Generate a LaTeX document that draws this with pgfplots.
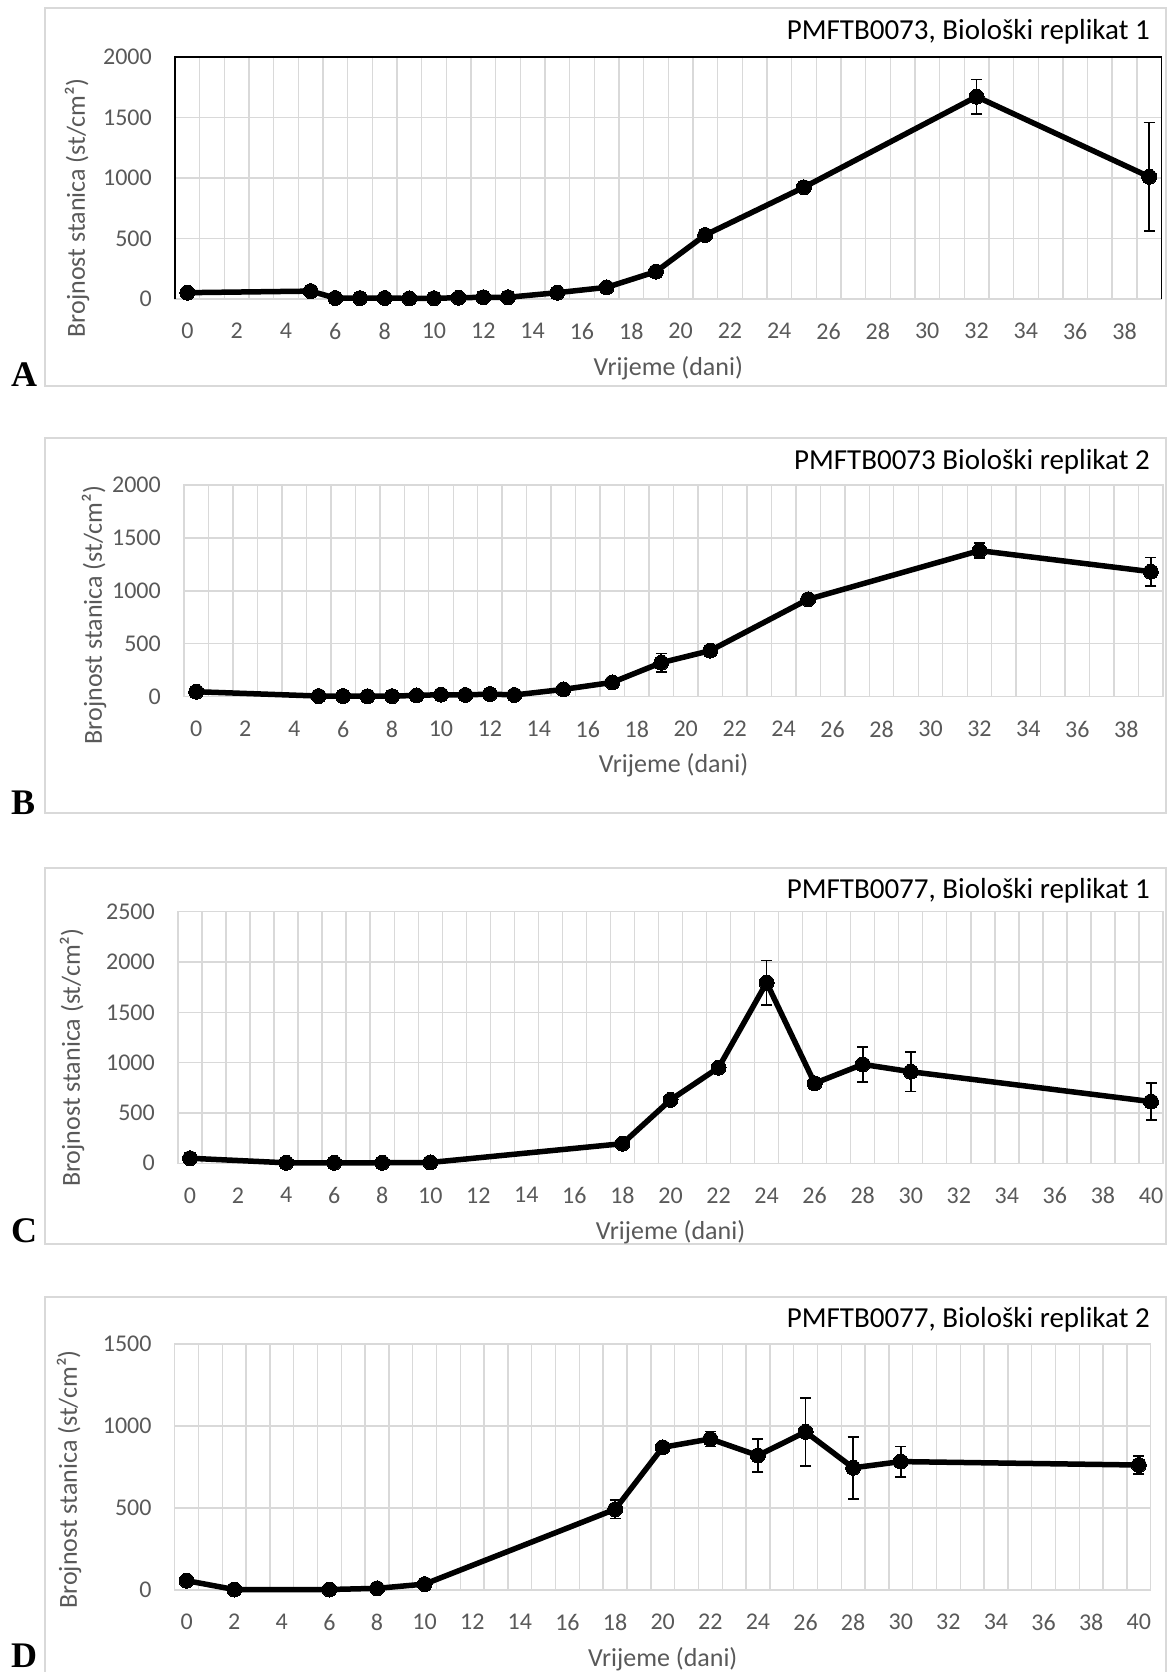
\documentclass[border=0pt]{standalone}
\usepackage{fontspec}
\setmainfont{Carlito}
\newfontfamily\letterfont{Liberation Serif}
\usepackage{pgfplots}
\pgfplotsset{compat=1.18}

\definecolor{gridc}{HTML}{D9D9D9}
\definecolor{tickc}{HTML}{595959}
\newcommand\ticksize{\fontsize{24}{28}\selectfont}
\newcommand\labsize{\fontsize{26}{31}\selectfont}
\newcommand\titsize{\fontsize{29}{34}\selectfont}

\pgfplotsset{
  panel/.style={
    scale only axis, clip=false,
    xmin=-0.5, ymin=0,
    axis line style={draw=gridc, line width=1.4pt},
    major tick length=0pt, minor tick length=0pt,
    ymajorgrids=true, xminorgrids=true,
    grid style={gridc, line width=1.4pt},
    minor grid style={gridc, line width=1.4pt},
    ytick distance=500,
    tick label style={font=\ticksize, text=tickc},
    /pgf/number format/assume math mode=true,
    /pgf/number format/1000 sep={},
    yticklabel style={anchor=east, inner sep=0pt, xshift=-23pt},
    xticklabel style={anchor=north, inner sep=0pt, yshift=-24pt},
    xlabel={Vrijeme (dani)},
    ylabel={Brojnost stanica (st/cm²)},
    label style={font=\labsize, text=tickc},
    xlabel style={at={(axis description cs:0.5,0)}, anchor=north, inner sep=0pt, yshift=-57pt},
  },
  series/.style={black, line width=5.5pt, line join=round, mark=*, mark size=7.5pt,
    mark options={solid, fill=black, line width=0pt},
    error bars/.cd, y dir=both, y explicit,
    error bar style={line width=1.6pt, black},
    error mark options={rotate=90, mark size=5.5pt, line width=1.6pt, black}},
}

\begin{document}
\begin{tikzpicture}
\path[use as bounding box] (0pt,0pt) rectangle (1168pt,1672pt);

% outer chart boxes
\draw[gridc, line width=1.5pt] (45pt,1286pt) rectangle (1166pt,1664pt);
\draw[gridc, line width=1.5pt] (45pt,859pt) rectangle (1166pt,1234pt);
\draw[gridc, line width=1.5pt] (45pt,428pt) rectangle (1166pt,804pt);
\draw[gridc, line width=1.5pt] (45pt,-2pt) rectangle (1166pt,375pt);

% panel letters
\node[anchor=base west, inner sep=0pt, font=\letterfont\bfseries\fontsize{36}{40}\selectfont] at (11pt,1285pt) {A};
\node[anchor=base west, inner sep=0pt, font=\letterfont\bfseries\fontsize{36}{40}\selectfont] at (11pt,857pt) {B};
\node[anchor=base west, inner sep=0pt, font=\letterfont\bfseries\fontsize{36}{40}\selectfont] at (11pt,429pt) {C};
\node[anchor=base west, inner sep=0pt, font=\letterfont\bfseries\fontsize{36}{40}\selectfont] at (11pt,5pt) {D};

% titles
\node[anchor=base east, inner sep=0pt, font=\titsize] at (1150pt,1632pt) {PMFTB0073, Biološki replikat 1};
\node[anchor=base east, inner sep=0pt, font=\titsize] at (1150pt,1202pt) {PMFTB0073 Biološki replikat 2};
\node[anchor=base east, inner sep=0pt, font=\titsize] at (1150pt,773pt) {PMFTB0077, Biološki replikat 1};
\node[anchor=base east, inner sep=0pt, font=\titsize] at (1150pt,344pt) {PMFTB0077, Biološki replikat 2};

% A
\begin{axis}[panel, at={(175pt,1373pt)}, anchor=south west,
  width=986.5pt, height=242pt, xmax=39.5, ymax=2000,
  xtick={0,2,...,38}, minor xtick={-0.5,0.5,...,39.5},
  ylabel style={at={(axis description cs:-0.0993,0.376)}, anchor=center}]
\addplot[series] coordinates {
  (0,52) +- (0,5)
  (5,65) +- (0,45)
  (6,8) +- (0,3)
  (7,7) +- (0,3)
  (8,8) +- (0,3)
  (9,5) +- (0,3)
  (10,6) +- (0,3)
  (11,10) +- (0,3)
  (12,14) +- (0,3)
  (13,14) +- (0,3)
  (15,52) +- (0,5)
  (17,96) +- (0,5)
  (19,226) +- (0,10)
  (21,529) +- (0,30)
  (25,923) +- (0,40)
  (32,1672) +- (0,142)
  (39,1010) +- (0,447)
};
\draw[black, line width=1.6pt] (rel axis cs:0,0) -- (rel axis cs:0,1) -- (rel axis cs:1,1) -- (rel axis cs:1,0);
\end{axis}

% B
\begin{axis}[panel, at={(184pt,975.3pt)}, anchor=south west,
  width=979pt, height=211.7pt, xmax=39.5, ymax=2000,
  xtick={0,2,...,38}, minor xtick={-0.5,0.5,...,39.5},
  ylabel style={at={(axis description cs:-0.0919,0.386)}, anchor=center}]
\addplot[series] coordinates {
  (0,47) +- (0,5)
  (5,6) +- (0,3)
  (6,6) +- (0,3)
  (7,4) +- (0,3)
  (8,5) +- (0,3)
  (9,12) +- (0,3)
  (10,19) +- (0,3)
  (11,16) +- (0,3)
  (12,25) +- (0,3)
  (13,16) +- (0,3)
  (15,69) +- (0,5)
  (17,135) +- (0,10)
  (19,321) +- (0,87)
  (21,435) +- (0,15)
  (25,920) +- (0,20)
  (32,1380) +- (0,70)
  (39,1181) +- (0,134)
};
\end{axis}

% C
\begin{axis}[panel, at={(178pt,508.7pt)}, anchor=south west,
  width=985pt, height=251.6pt, xmax=40.5, ymax=2500,
  xtick={0,2,...,40}, minor xtick={-0.5,0.5,...,40.5},
  ylabel style={at={(axis description cs:-0.1076,0.42)}, anchor=center}]
\addplot[series] coordinates {
  (0,50) +- (0,5)
  (4,5) +- (0,3)
  (6,5) +- (0,3)
  (8,5) +- (0,3)
  (10,8) +- (0,3)
  (18,195) +- (0,10)
  (20,630) +- (0,55)
  (22,950) +- (0,25)
  (24,1795) +- (0,222)
  (26,795) +- (0,20)
  (28,983) +- (0,175)
  (30,910) +- (0,195)
  (40,613) +- (0,185)
};
\end{axis}

% D
\begin{axis}[panel, at={(174.7pt,82pt)}, anchor=south west,
  width=976pt, height=246pt, xmax=40.5, ymax=1500,
  xtick={0,2,...,40}, minor xtick={-0.5,0.5,...,40.5},
  ylabel style={at={(axis description cs:-0.1083,0.45)}, anchor=center}]
\addplot[series] coordinates {
  (0,57) +- (0,5)
  (2,3) +- (0,3)
  (6,3) +- (0,3)
  (8,10) +- (0,3)
  (10,36) +- (0,5)
  (18,492) +- (0,57)
  (20,870) +- (0,10)
  (22,921) +- (0,45)
  (24,820) +- (0,102)
  (26,964) +- (0,207)
  (28,745) +- (0,189)
  (30,783) +- (0,93)
  (40,762) +- (0,55)
};
\end{axis}
\end{tikzpicture}
\end{document}
